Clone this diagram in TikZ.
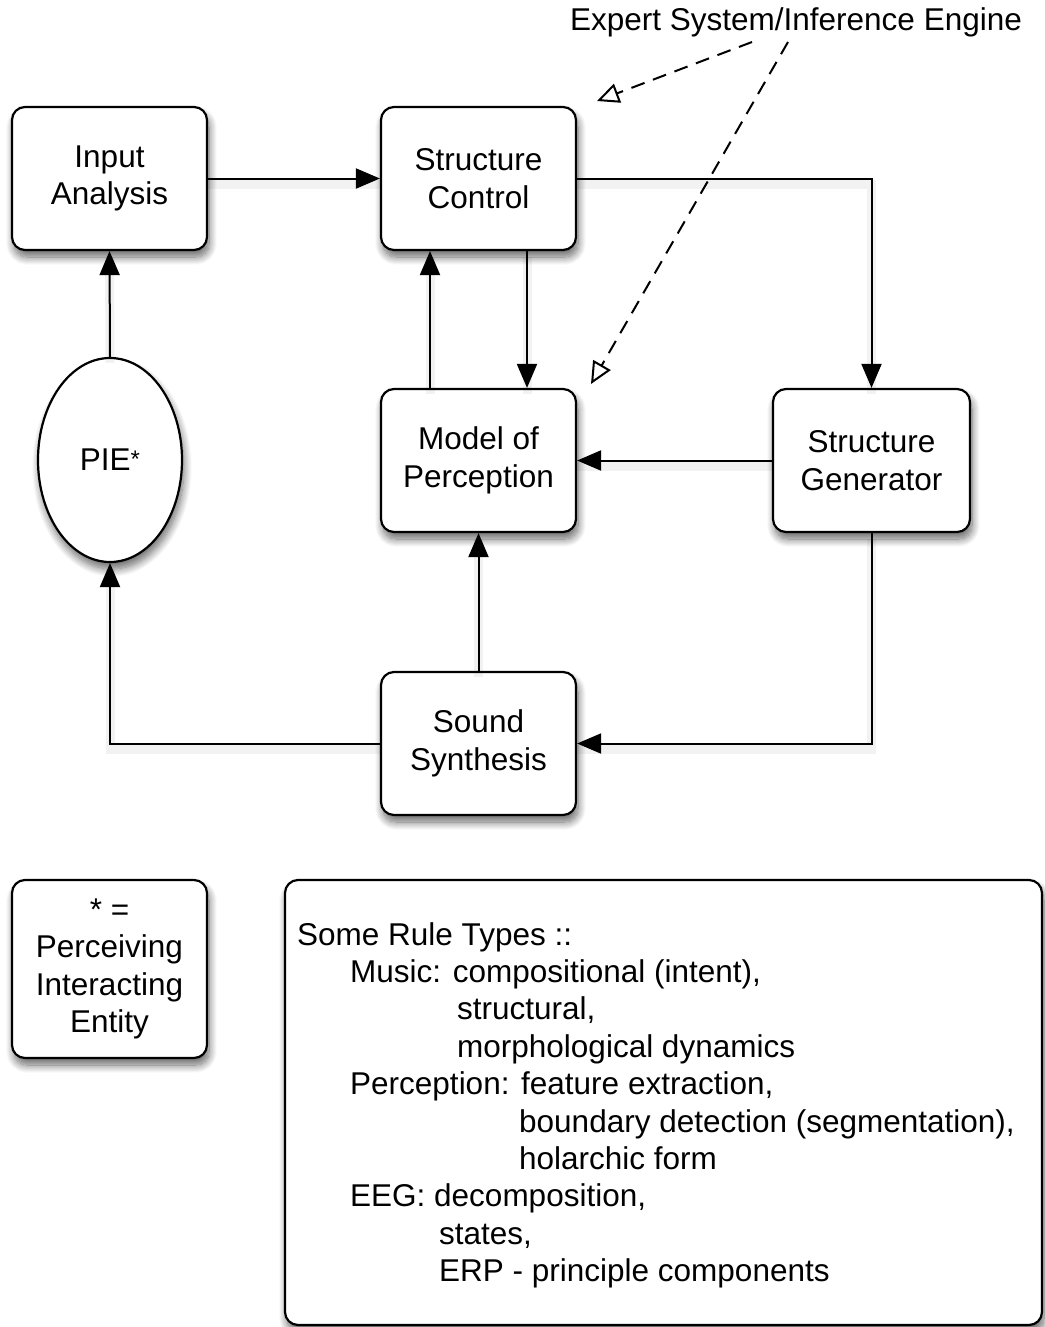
\documentclass[tikz,border=0pt]{standalone}
\usepackage{fontspec}
\setmainfont{Liberation Sans}
\usetikzlibrary{arrows.meta,shapes.geometric,shadows.blur}

\tikzset{
  softshadow/.style={blur shadow={shadow xshift=2pt, shadow yshift=-7pt,
      shadow blur radius=8pt, shadow blur steps=12, shadow opacity=60}},
  block/.style={draw=black, line width=2.2pt, rounded corners=13pt, fill=white,
      minimum width=195pt, minimum height=143pt, inner sep=0pt,
      align=center, font=\fontsize{31.5}{37.5}\selectfont, softshadow},
  entity/.style={draw=black, line width=2.2pt, ellipse, fill=white,
      minimum width=144pt, minimum height=204pt, inner sep=0pt,
      font=\fontsize{31.5}{37.5}\selectfont, softshadow},
  lineshade/.style={preaction={draw=black, draw opacity=0.05, line width=9pt,
      -, transform canvas={yshift=-6pt}}},
  flow/.style={line width=2pt, -{Triangle[length=24pt,width=20pt]}, lineshade},
  infer/.style={line width=2pt, dash pattern=on 14pt off 9pt,
      -{Triangle[open,length=22pt,width=20pt,line width=2pt]}},
  ruletext/.style={anchor=base west, inner sep=0pt,
      font=\fontsize{31.5}{37.5}\selectfont},
}

\begin{document}
\begin{tikzpicture}[x=1pt,y=-1pt]
  \useasboundingbox (0,0) rectangle (1044,1327);

  % block centres
  \coordinate (iaC) at (109.5,178.5);
  \coordinate (scC) at (478.5,178.5);
  \coordinate (mpC) at (478.5,460.5);
  \coordinate (sgC) at (871.5,460.5);
  \coordinate (ssC) at (478.5,743.5);
  \coordinate (pieC) at (110,460);

  % main blocks
  \node[block] (ia) at (iaC) {Input\\Analysis};
  \node[block] (sc) at (scC) {Structure\\Control};
  \node[block] (mp) at (mpC) {Model of\\Perception};
  \node[block, minimum width=197pt] (sg) at (sgC) {Structure\\Generator};
  \node[block] (ss) at (ssC) {Sound\\Synthesis};
  \node[entity] (pie) at (pieC) {PIE\raisebox{3pt}{\fontsize{24}{24}\selectfont *}};

  % legend and rule list frames
  \node[block, minimum height=178pt] (legend) at (109.5,969)
    {* =\\Perceiving\\Interacting\\Entity};
  \node[block, minimum width=757pt, minimum height=445pt] (rules) at (663.5,1102.5) {};

  % expert system label
  \node[font=\fontsize{31.5}{37.5}\selectfont, inner sep=0pt] (es) at (796,22)
    {Expert System/Inference Engine};
  \coordinate (esA) at (752,42);
  \coordinate (esB) at (788,42);
  \coordinate (scTip) at (597,101);
  \coordinate (mpTip) at (591,384);

  % signal flow
  \draw[flow] (ia.east) -- (sc.west);
  \draw[flow] (sc.east) -| (sg.north);
  \draw[flow] ([xshift=48.5pt]sc.south) -- ([xshift=48.5pt]mp.north);
  \draw[flow] ([xshift=-48.5pt]mp.north) -- ([xshift=-48.5pt]sc.south);
  \draw[flow] (sg.west) -- (mp.east);
  \draw[flow] (sg.south) |- (ss.east);
  \draw[flow] (ss.north) -- (mp.south);
  \draw[flow] (ss.west) -| (pie.south);
  \draw[flow] (pie.north) -- (ia.south);

  % inference engine links
  \draw[infer] (esA) -- (scTip);
  \draw[infer] (esB) -- (mpTip);

  % rule types
  \node[ruletext] (r1) at (297,945) {Some Rule Types ::};
  \node[ruletext] (r2) at (350,982.4) {Music: compositional (intent),};
  \node[ruletext] (r3) at (457,1019.8) {structural,};
  \node[ruletext] (r4) at (457,1057.2) {morphological dynamics};
  \node[ruletext] (r5) at (350,1094.6) {Perception: feature extraction,};
  \node[ruletext] (r6) at (519,1132) {boundary detection (segmentation),};
  \node[ruletext] (r7) at (519,1169.4) {holarchic form};
  \node[ruletext] (r8) at (350,1206.8) {EEG: decomposition,};
  \node[ruletext] (r9) at (439,1244.2) {states,};
  \node[ruletext] (r10) at (439,1281.6) {ERP - principle components};
\end{tikzpicture}
\end{document}
